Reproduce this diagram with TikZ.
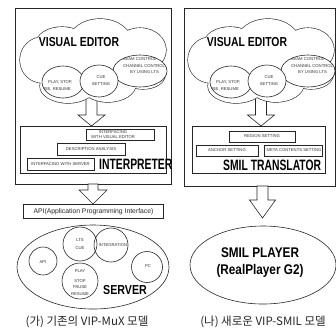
\documentclass[tikz,border=0pt]{standalone}
\usepackage{fontspec}
\usepackage{graphicx}
\setmainfont{Liberation Sans}
\newfontfamily\krfont{Noto Sans CJK KR}

\tikzset{
  ln/.style={draw=black!85, line width=0.6pt},
  framebox/.style={ln, inner sep=0pt},
  subbox/.style={ln, inner sep=0pt},
  tag/.style={inner sep=0pt, text=black!80, align=center,
    font=\fontsize{4.2}{5}\selectfont},
  apitag/.style={inner sep=0pt, text=black!85,
    font=\fontsize{6.8}{8}\selectfont},
  title/.style={inner sep=0pt, text=black, font=\bfseries},
  caption/.style={inner sep=0pt, text=black!85},
  hollow/.style={ln, fill=white, line join=miter},
  lobeline/.style={draw=black!85, line width=1.2pt},
}
\newcommand\squeeze[2]{\scalebox{#1}[1]{#2}}

% hollow block arrow: centre x, top y, shoulder y, tip y, half body, half head
\newcommand\hollowarrow[6]{%
  \draw[hollow] ({#1-#5},#2) -- ({#1+#5},#2) -- ({#1+#5},#3) -- ({#1+#6},#3)
    -- (#1,#4) -- ({#1-#6},#3) -- ({#1-#5},#3) -- cycle;}

% the visual editor cloud with its three ellipses; #1 prefixes node names
\newcommand\editorcloud[1]{%
  \foreach \cx/\cy/\rx/\ry in {43/60/23/23, 62/44/26/17, 100/43/32/24,
      140/50/26/22, 68/86/28/17, 108/84/28/18, 143/75/22/14}
    \draw[lobeline] (\cx,\cy) ellipse [x radius=\rx, y radius=\ry];
  \foreach \cx/\cy/\rx/\ry in {43/60/23/23, 62/44/26/17, 100/43/32/24,
      140/50/26/22, 68/86/28/17, 108/84/28/18, 143/75/22/14, 95/65/45/22}
    \fill[white] (\cx,\cy) ellipse [x radius=\rx, y radius=\ry];
  % stream control
  \draw[ln, fill=white] (140,71) ellipse [x radius=27, y radius=16];
  \begin{scope}
    \clip (140,71) ellipse [x radius=27, y radius=16];
    \node[tag, anchor=west] (#1streamA) at (117,59) {STREAM CONTROL};
    \node[tag, anchor=west] (#1streamB) at (123,66) {CHANNEL CONTROL};
    \node[tag, anchor=west] (#1streamC) at (130,72) {BY USING LTS};
  \end{scope}
  % play / stop
  \draw[ln, fill=white] (63,82) ellipse [x radius=21, y radius=16];
  \begin{scope}
    \clip (63,82) ellipse [x radius=21, y radius=16];
    \node[tag, anchor=west] (#1playA) at (48,82) {PLAY, STOP,};
    \node[tag, anchor=east] (#1playB) at (71,89) {PAUSE, RESUME};
  \end{scope}
  % cue setting
  \draw[ln, fill=white] (99,81) ellipse [x radius=19, y radius=16];
  \node[tag] (#1cueA) at (101,77) {CUE};
  \node[tag] (#1cueB) at (101,84) {SETTING};
  \node[title, anchor=base] (#1title) at (79,46)
    {\fontsize{13}{13}\selectfont\squeeze{0.8}{VISUAL EDITOR}};
}

\begin{document}
\begin{tikzpicture}[x=1pt, y=-1pt]
\useasboundingbox (0,0) rectangle (336,333);

% ---------------- left: VIP-MuX ----------------
\node[framebox, minimum width=156, minimum height=176] (leftframe) at (93,96) {};
\hollowarrow{91.5}{95}{115}{126}{5.5}{13.5}
\editorcloud{L}

\node[framebox, minimum width=146, minimum height=47] (interp) at (93,149.5) {};
\node[subbox, minimum width=68, minimum height=11] (ifve) at (120,134.5) {};
\node[tag] (ifvetext) at (113,134.5) {INTERFACING\\WITH VISUAL EDITOR};
\node[subbox, minimum width=68, minimum height=12] (desc) at (91,149) {};
\node[tag] (desctext) at (91,149) {DESCRIPTION ANALYSIS};
\node[subbox, minimum width=67, minimum height=12] (ifsv) at (60.5,164) {};
\node[tag] (ifsvtext) at (60.5,164) {INTERFACING WITH SERVER};
\node[title, anchor=base west] (interptitle) at (99,169)
  {\fontsize{15}{15}\selectfont\squeeze{0.69}{INTERPRETER}};

\hollowarrow{93}{184}{190}{204}{5}{14}

\node[framebox, minimum width=140, minimum height=14] (api) at (93,211) {};
\node[apitag] (apitext) at (93.5,211.5) {API(Application Programming Interface)};

% server
\draw[ln] (93,267) ellipse [x radius=76, y radius=42];
\draw[ln] (43,261) circle [radius=14];
\draw[ln] (80,244) circle [radius=17];
\draw[ln] (111,245) circle [radius=17];
\draw[ln] (147,267) circle [radius=15.5];
\draw[ln] (80,281) circle [radius=18];
\node[tag] (sapi) at (43,262) {API};
\node[tag] (slts) at (80,240) {LTS};
\node[tag] (scue) at (80,248) {CUE};
\node[tag] (sint) at (113,245.5) {INTEGRATION};
\node[tag] (spc) at (148,266) {PC};
\node[tag] (splay) at (80,271) {PLAY};
\node[tag] (sstop) at (80,281) {STOP};
\node[tag] (spause) at (80,287.5) {PAUSE};
\node[tag] (sresume) at (80,294) {RESUME};
\node[title, anchor=base west] (servertitle) at (103,294)
  {\fontsize{13}{13}\selectfont\squeeze{0.82}{SERVER}};

\node[caption] (capL) at (87,322)
  {\krfont\fontsize{11.5}{12}\selectfont (가) 기존의 VIP-MuX 모델};

% ---------------- right: VIP-SMIL ----------------
\node[framebox, minimum width=151, minimum height=178] (rightframe) at (259.5,97) {};
\hollowarrow{261}{95}{115}{126}{5.5}{13.5}
\begin{scope}[xshift=168pt]
  \editorcloud{R}
\end{scope}

\node[framebox, minimum width=133, minimum height=47] (smiltr) at (258.5,149.5) {};
\node[subbox, minimum width=66, minimum height=11] (region) at (262,136.5) {};
\node[tag] (regiontext) at (262,136.5) {REGION SETTING};
\node[subbox, minimum width=62, minimum height=11] (anchor) at (227,150.5) {};
\node[tag] (anchortext) at (227,150.5) {ANCHOR SETTING};
\node[subbox, minimum width=58, minimum height=11] (meta) at (293,150.5) {};
\node[tag] (metatext) at (294,150.5) {META CONTENTS SETTING};
\node[title, anchor=base west] (smiltitle) at (223,170)
  {\fontsize{15}{15}\selectfont\squeeze{0.69}{SMIL TRANSLATOR}};

\hollowarrow{262.5}{186}{200}{218}{5.5}{13}

\draw[ln] (263,265) ellipse [x radius=73, y radius=39];
\node[title, anchor=base] (playerA) at (260,257)
  {\fontsize{14}{14}\selectfont\squeeze{0.84}{SMIL PLAYER}};
\node[title, anchor=base] (playerB) at (260,274)
  {\fontsize{14}{14}\selectfont\squeeze{0.84}{(RealPlayer G2)}};

\node[caption] (capR) at (263,322)
  {\krfont\fontsize{11.5}{12}\selectfont (나) 새로운 VIP-SMIL 모델};
\end{tikzpicture}
\end{document}
